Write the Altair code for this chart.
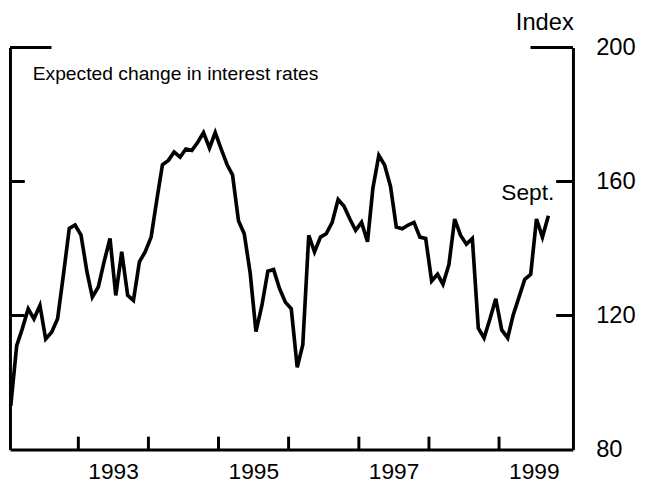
import altair as alt
import pandas as pd

# Monthly index values, Jan 1992 .. Sept 1999
values = [93, 111, 116, 122, 119, 123, 113, 115, 119, 132, 146, 147,
          144, 133, 125.5, 128.5, 136, 143, 126, 139, 126, 124.5, 136, 139,
          143.4, 155, 165, 166.3, 168.8, 167.3, 169.7, 169.3, 171.7, 174.6, 170, 174.6,
          169.7, 165, 162, 148.3, 144.4, 132.7, 115.2, 123, 133.2, 133.7, 128, 124,
          122, 104.5, 111.3, 143.9, 139, 143.4, 144.4, 147.8, 154.6, 152.7, 148.8, 145.4,
          147.8, 142, 158, 167.8, 164.9, 158.5, 146.4, 145.9, 147, 147.8, 143.4, 143,
          130.3, 132.3, 129.3, 135.2, 148.8, 143.9, 141.3, 143, 116.2, 113.3, 119, 125,
          115.7, 113.3, 120, 125.5, 130.8, 132.3, 148.8, 143.4, 149.8]
years = list(range(1992, 2000))
label_years = [1993, 1995, 1997, 1999]
tick_years = [1993, 1994, 1995, 1996, 1997, 1998, 1999]
y_ticks = [80, 120, 160, 200]
inner_ticks = [120, 160]
title_text = "Expected change in interest rates"
end_label = "Sept."

dates = [f"{y}-{m:02d}-15" for y in years for m in range(1, 13)][:len(values)]
df = pd.DataFrame({"date": dates, "value": values})
ticks_df = pd.DataFrame({"date": [f"{y}-01-01" for y in tick_years]})
inner_df = pd.DataFrame({"v": inner_ticks})
top_df = pd.DataFrame({"v": [200]})
end_df = df.tail(1).assign(label=end_label)
title_df = pd.DataFrame({"t": [title_text]})

W, H = 570, 407
FONT = "Liberation Sans"

xscale = alt.Scale(type="utc", domain=[alt.DateTime(year=1992, month=1, date=11, utc=True),
                                       alt.DateTime(year=2000, month=1, date=21, utc=True)])
yscale = alt.Scale(domain=[80, 200], nice=False, zero=False)

xaxis = alt.Axis(values=[alt.DateTime(year=y, month=7, date=1, utc=True) for y in label_years],
                 labelExpr="utcFormat(datum.value, '%Y')", ticks=False, grid=False, domain=True,
                 domainWidth=3, domainColor="black", labelFontSize=23, labelColor="black",
                 labelPadding=11, labelFont=FONT, title=None)
X = alt.X("date:T", scale=xscale, axis=xaxis, title=None)

line = alt.Chart(df).mark_line(color="black", strokeWidth=3.7, strokeJoin="miter").encode(
    x=X,
    y=alt.Y("value:Q", scale=yscale,
            axis=alt.Axis(orient="right", values=y_ticks, ticks=False, grid=False, domain=True,
                          domainWidth=3, domainColor="black", labelFontSize=24, labelColor="black",
                          labelPadding=23, labelFont=FONT, title="Index", titleAngle=0,
                          titleX=-29, titleY=-25, titleAlign="center", titleBaseline="middle",
                          titleFontSize=24, titleFontWeight="normal", titleFont=FONT,
                          titleColor="black")),
)

left_ticks = alt.Chart(inner_df).mark_rule(color="black", strokeWidth=3).encode(
    x=alt.value(0), x2=alt.value(15),
    y=alt.Y("v:Q", scale=yscale,
            axis=alt.Axis(orient="left", labels=False, ticks=False, grid=False, domain=True,
                          domainWidth=3, domainColor="black", title=None)),
)
right_ticks = alt.Chart(inner_df).mark_rule(color="black", strokeWidth=3).encode(
    x=alt.value(553), x2=alt.value(W),
    y=alt.Y("v:Q", scale=yscale, axis=None),
)
top_left = alt.Chart(top_df).mark_rule(color="black", strokeWidth=3).encode(
    x=alt.value(0), x2=alt.value(42), y=alt.Y("v:Q", scale=yscale, axis=None))
top_right = alt.Chart(top_df).mark_rule(color="black", strokeWidth=3).encode(
    x=alt.value(527), x2=alt.value(W), y=alt.Y("v:Q", scale=yscale, axis=None))

year_ticks = alt.Chart(ticks_df).mark_rule(color="black", strokeWidth=3).encode(
    x=X,
    y=alt.value(H - 13), y2=alt.value(H),
)

title = alt.Chart(title_df).mark_text(align="left", baseline="middle", fontSize=19.5,
                                      font=FONT, color="black").encode(
    x=alt.value(23), y=alt.value(27), text="t:N")

end_text = alt.Chart(end_df).mark_text(align="right", baseline="alphabetic", fontSize=23,
                                       font=FONT, color="black", dx=6, dy=-16).encode(
    x=X,
    y=alt.Y("value:Q", scale=yscale, axis=None),
    text="label:N")

chart = alt.layer(line, left_ticks, right_ticks, top_left, top_right, year_ticks, title, end_text
).resolve_axis(y="independent").resolve_scale(y="shared", x="shared").properties(
    width=W, height=H,
    autosize=alt.AutoSizeParams(type="none"),
    padding={"left": 2, "top": 37, "right": 78, "bottom": 36},
).configure_view(stroke=None)

chart.save("out.html", embed_options={"renderer": "svg", "actions": False})
